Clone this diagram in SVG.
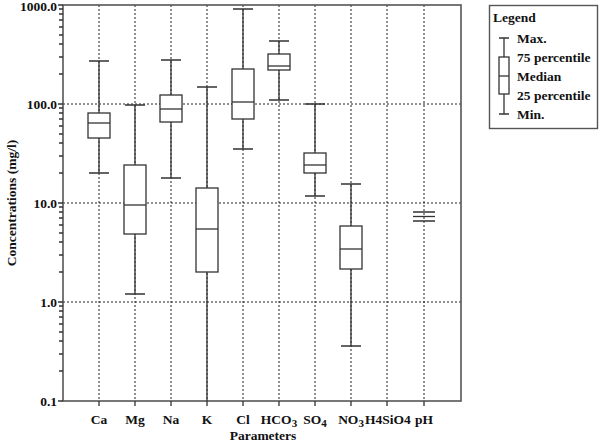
<svg xmlns="http://www.w3.org/2000/svg" width="600" height="443" viewBox="0 0 600 443">
<style>
text{font-family:"Liberation Serif",serif;font-weight:bold;fill:#111;font-size:13.5px}
.g{stroke:#222;stroke-width:1;stroke-dasharray:2,2;fill:none}
.b{stroke:#333;stroke-width:1.3;fill:#fff}
.w{stroke:#333;stroke-width:1.3;fill:none}
.ax{stroke:#555;stroke-width:1.6;fill:none}
</style>
<rect width="600" height="443" fill="#fff"/>
<g id="grid">
<path class="g" d="M99 5V401M135 5V401M171 5V401M207 5V401M243 5V401M279 5V401M315 5V401M351 5V401M387 5V401M424 5V401M63 104H461M63 203H461M63 302H461"/>
</g>
<g id="axes">
<rect class="ax" x="63" y="5" width="398" height="396"/>
<path class="w" d="M99 401v5M135 401v5M171 401v5M207 401v5M243 401v5M279 401v5M315 401v5M351 401v5M387 401v5M424 401v5"/>
<path class="w" stroke-width="1" d="M63 5h-5M63 104h-5M63 203h-5M63 302h-5M63 401h-5
M59 371h4M59 354h4M59 341h4M59 332h4M59 324h4M59 317h4M59 311h4M59 306h4
M59 272h4M59 255h4M59 242h4M59 233h4M59 225h4M59 218h4M59 212h4M59 207h4
M59 173h4M59 156h4M59 143h4M59 134h4M59 126h4M59 119h4M59 113h4M59 108h4
M59 74h4M59 57h4M59 44h4M59 35h4M59 27h4M59 20h4M59 14h4M59 9h4"/>
<text x="57" y="11" text-anchor="end">1000.0</text>
<text x="57" y="109" text-anchor="end">100.0</text>
<text x="57" y="208" text-anchor="end">10.0</text>
<text x="57" y="307" text-anchor="end">1.0</text>
<text x="57" y="406" text-anchor="end">0.1</text>
<text transform="translate(16,203) rotate(-90)" text-anchor="middle" font-size="14.5">Concentrations (mg/l)</text>
<text x="263" y="440" text-anchor="middle">Parameters</text>
</g>
<g id="xlabels">
<text x="99" y="424" text-anchor="middle">Ca</text>
<text x="135" y="424" text-anchor="middle">Mg</text>
<text x="171" y="424" text-anchor="middle">Na</text>
<text x="207" y="424" text-anchor="middle">K</text>
<text x="243" y="424" text-anchor="middle">Cl</text>
<text x="279" y="424" text-anchor="middle">HCO<tspan font-size="11" dy="3">3</tspan></text>
<text x="315" y="424" text-anchor="middle">SO<tspan font-size="11" dy="3">4</tspan></text>
<text x="351" y="424" text-anchor="middle">NO<tspan font-size="11" dy="3">3</tspan></text>
<text x="388" y="424" text-anchor="middle" font-size="10" font-weight="normal">H4SiO4</text>
<text x="424" y="424" text-anchor="middle">pH</text>
</g>
<g id="Ca"><path class="w" d="M99 61V173M89 61h20M89 173h20"/><rect class="b" x="88" y="113" width="22" height="25"/><path class="w" d="M88 123h22"/></g>
<g id="Mg"><path class="w" d="M135 105V294M125 105h20M125 294h20"/><rect class="b" x="124" y="165" width="22" height="69"/><path class="w" d="M124 205h22"/></g>
<g id="Na"><path class="w" d="M171 60V178M161 60h20M161 178h20"/><rect class="b" x="160" y="95" width="22" height="27"/><path class="w" d="M160 109h22"/></g>
<g id="K"><path class="w" d="M207 87V401M197 87h20"/><rect class="b" x="196" y="188" width="22" height="84"/><path class="w" d="M196 229h22"/></g>
<g id="Cl"><path class="w" d="M243 9V149M233 9h20M233 149h20"/><rect class="b" x="232" y="69" width="22" height="50"/><path class="w" d="M232 102h22"/></g>
<g id="HCO3"><path class="w" d="M279 41V100M269 41h20M269 100h20"/><rect class="b" x="268" y="54" width="22" height="16"/><path class="w" d="M268 66h22"/></g>
<g id="SO4"><path class="w" d="M315 104V196M305 104h20M305 196h20"/><rect class="b" x="304" y="153" width="22" height="20"/><path class="w" d="M304 165h22"/></g>
<g id="NO3"><path class="w" d="M351 184V346M341 184h20M341 346h20"/><rect class="b" x="340" y="226" width="22" height="43"/><path class="w" d="M340 249h22"/></g>
<g id="pH"><path class="w" d="M413 212h22M413 221h22"/><path class="w" stroke-width="2.5" d="M413 216.5h22"/></g>
<g id="legend">
<rect x="489.5" y="5.5" width="108" height="123" fill="#fff" stroke="#555" stroke-width="1.4"/>
<text x="493" y="22">Legend</text>
<path class="w" d="M504 38V114M499 38h10M499 114h10"/><rect class="b" x="499" y="57" width="10" height="37"/><path class="w" d="M499 76h10"/>
<text x="517" y="43">Max.</text>
<text x="517" y="62">75 percentile</text>
<text x="517" y="81">Median</text>
<text x="517" y="100">25 percentile</text>
<text x="517" y="119">Min.</text>
</g>
</svg>
